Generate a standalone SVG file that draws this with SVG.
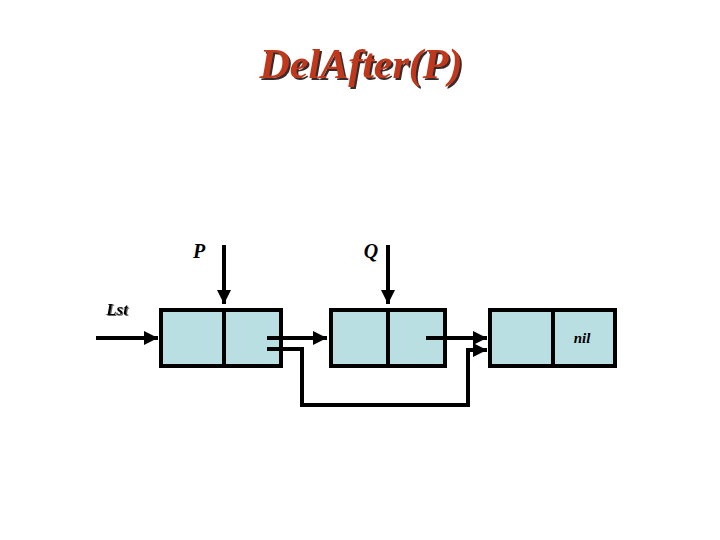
<svg xmlns="http://www.w3.org/2000/svg" width="720" height="540" viewBox="0 0 720 540">
<defs>
<style>
.node{fill:#b9dfe3;stroke:#000;stroke-width:4}
.div{stroke:#000;stroke-width:4}
.ln{fill:none;stroke:#000;stroke-width:4}
.lbl{font-family:"Liberation Serif",serif;font-weight:bold;font-style:italic;fill:#000}
.title{font-family:"Liberation Serif",serif;font-weight:bold;font-style:italic;font-size:42px}
</style>
<filter id="tsh" x="-10%" y="-20%" width="120%" height="140%">
<feDropShadow dx="2" dy="2" stdDeviation="0.3" flood-color="#3a2a2a" flood-opacity="1"/>
</filter>
<filter id="lsh" x="-10%" y="-20%" width="130%" height="150%">
<feDropShadow dx="1" dy="1" stdDeviation="0" flood-color="#666" flood-opacity="1"/>
</filter>
<marker id="ah" viewBox="0 0 10 10" refX="10" refY="5" markerWidth="4" markerHeight="3.5" markerUnits="strokeWidth" orient="auto">
<path d="M0,0 L10,5 L0,10 z" fill="#000"/>
</marker>
</defs>
<rect width="720" height="540" fill="#fff"/>
<g id="title">
<text class="title" x="361" y="78" text-anchor="middle" fill="#c0391b" filter="url(#tsh)">DelAfter(P)</text>
</g>
<g id="node1">
<rect class="node" x="161" y="310" width="120" height="56"/>
<line class="div" x1="224" y1="310" x2="224" y2="366"/>
</g>
<g id="node2">
<rect class="node" x="331" y="310" width="114" height="56"/>
<line class="div" x1="388" y1="310" x2="388" y2="366"/>
</g>
<g id="node3">
<rect class="node" x="490" y="310" width="125" height="56"/>
<line class="div" x1="553" y1="310" x2="553" y2="366"/>
<text class="lbl" x="582" y="343" font-size="15" text-anchor="middle">nil</text>
</g>
<g id="labels">
<text class="lbl" x="117" y="315" font-size="17" text-anchor="middle" filter="url(#lsh)">Lst</text>
<text class="lbl" x="199" y="258" font-size="20" text-anchor="middle">P</text>
<text class="lbl" x="371" y="258" font-size="20" text-anchor="middle">Q</text>
</g>
<g id="connectors">
<line class="ln" x1="96" y1="338" x2="158" y2="338" marker-end="url(#ah)"/>
<line class="ln" x1="224" y1="245" x2="224" y2="304" marker-end="url(#ah)"/>
<line class="ln" x1="388" y1="245" x2="388" y2="304" marker-end="url(#ah)"/>
<line class="ln" x1="267" y1="338" x2="327" y2="338" marker-end="url(#ah)"/>
<line class="ln" x1="426" y1="338" x2="487" y2="338" marker-end="url(#ah)"/>
<polyline class="ln" points="267,349 302,349 302,405 468,405 468,350 487,350" marker-end="url(#ah)"/>
</g>
</svg>
